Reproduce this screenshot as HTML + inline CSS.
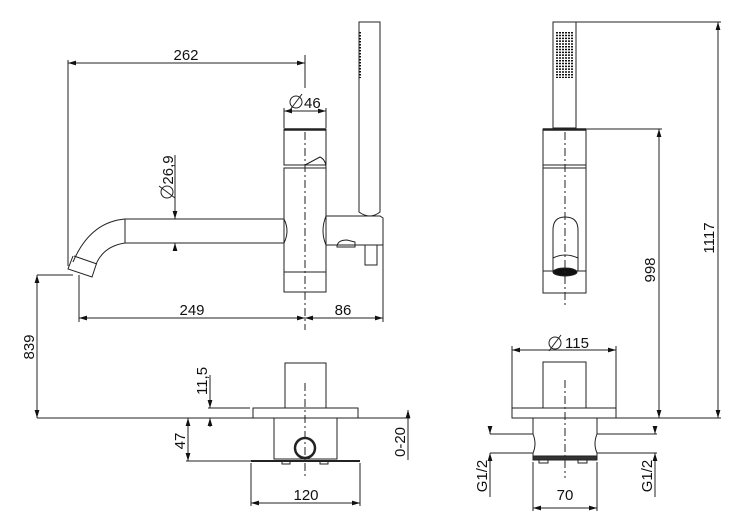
<!DOCTYPE html>
<html><head><meta charset="utf-8"><style>
html,body{margin:0;padding:0;background:#fff}
svg{display:block}
text{font-family:"Liberation Sans",Arial,sans-serif;font-size:15px;fill:#111}
</style></head><body>
<svg width="732" height="525" viewBox="0 0 732 525" xmlns="http://www.w3.org/2000/svg">
<defs>
<marker id="a" viewBox="0 0 10 6" refX="10" refY="3" markerWidth="8" markerHeight="5" orient="auto-start-reverse" markerUnits="userSpaceOnUse"><path d="M0,0 L10,3 L0,6z" fill="#111"/></marker>
</defs>
<g stroke="#222" stroke-width="1" fill="none">
<!-- LEFT VIEW -->
<line x1="68" y1="63" x2="305" y2="63" marker-start="url(#a)" marker-end="url(#a)"/>
<line x1="68" y1="60" x2="68" y2="266"/>
<line x1="305" y1="55" x2="305" y2="88"/>
<line x1="284" y1="111" x2="326" y2="111" marker-start="url(#a)" marker-end="url(#a)"/>
<line x1="284" y1="108" x2="284" y2="128"/><line x1="326" y1="108" x2="326" y2="128"/>
<rect x="284" y="129" width="42" height="36"/>
<line x1="284" y1="129.5" x2="326" y2="129.5" stroke-width="2.5"/>
<path d="M305,165 L320,157 Q326,160 326,168"/>
<rect x="284" y="168" width="42" height="124"/>
<line x1="284" y1="272" x2="326" y2="272"/>
<path d="M284,219 L125,219 Q90,222 73,262"/>
<path d="M284,243 L125,243 Q105,246 97,262"/>
<line x1="125" y1="219" x2="125" y2="243"/>
<path d="M73,256 L68,269 L92,277 L97,262"/>
<line x1="74" y1="256" x2="97" y2="264"/>
<path d="M284,219 Q290,231 284,243"/>
<line x1="175" y1="155" x2="175" y2="219" marker-end="url(#a)"/>
<line x1="175" y1="250" x2="175" y2="243" marker-end="url(#a)"/>
<path d="M359,212 L359,22 L380,22 L380,212 Q370,220 359,212z"/>
<line x1="360" y1="32" x2="360" y2="78" stroke="#111" stroke-width="2" stroke-dasharray="1.5 1.5"/>
<path d="M326,216 L380,216 L383,218 L383,245 L326,245 Q320,231 326,216"/>
<rect x="365" y="245" width="12" height="20"/>
<path d="M337,246 Q338,240 347,240 L355,242 L355,247 L337,247z"/>
<line x1="305" y1="132" x2="305" y2="330" stroke-dasharray="8 3 2 3"/>
<line x1="79" y1="318" x2="305" y2="318" marker-start="url(#a)" marker-end="url(#a)"/>
<line x1="305" y1="318" x2="383" y2="318" marker-start="url(#a)" marker-end="url(#a)"/>
<line x1="79" y1="275" x2="79" y2="322"/>
<line x1="383" y1="245" x2="383" y2="322"/>
<line x1="37" y1="275" x2="73" y2="275"/>
<line x1="37" y1="275" x2="37" y2="418" marker-start="url(#a)" marker-end="url(#a)"/>
<line x1="37" y1="418" x2="410" y2="418"/>
<rect x="285" y="363" width="41" height="45"/>
<rect x="253" y="408" width="105" height="10"/>
<rect x="274" y="418" width="63" height="41"/>
<circle cx="305" cy="448" r="10" stroke-width="2.5"/>
<line x1="251" y1="461" x2="360" y2="461" stroke-width="2"/>
<rect x="282" y="461" width="8" height="3"/><rect x="320" y="461" width="8" height="3"/>
<line x1="305" y1="383" x2="305" y2="476" stroke-dasharray="8 3 2 3"/>
<line x1="208" y1="408" x2="250" y2="408"/>
<line x1="210" y1="375" x2="210" y2="408" marker-end="url(#a)"/>
<line x1="210" y1="427" x2="210" y2="418" marker-end="url(#a)"/>
<line x1="188" y1="418" x2="188" y2="461" marker-start="url(#a)" marker-end="url(#a)"/>
<line x1="186" y1="461" x2="251" y2="461"/>
<line x1="408" y1="410" x2="408" y2="418" marker-start="url(#a)"/>
<line x1="408" y1="418" x2="408" y2="460"/>
<line x1="251" y1="463" x2="251" y2="506"/><line x1="360" y1="463" x2="360" y2="506"/>
<line x1="251" y1="503" x2="360" y2="503" marker-start="url(#a)" marker-end="url(#a)"/>

<!-- RIGHT VIEW -->
<rect x="553" y="22" width="23" height="106"/>
<g stroke="#111" stroke-width="2" stroke-dasharray="1.5 1.3">
<line x1="557" y1="32" x2="557" y2="78"/><line x1="560" y1="32" x2="560" y2="78"/><line x1="563" y1="32" x2="563" y2="78"/><line x1="566" y1="32" x2="566" y2="78"/><line x1="569" y1="32" x2="569" y2="78"/><line x1="572" y1="32" x2="572" y2="78"/>
</g>
<rect x="543" y="129" width="43" height="164"/>
<line x1="543" y1="129.5" x2="586" y2="129.5" stroke-width="2.5"/>
<line x1="543" y1="165" x2="586" y2="165"/>
<line x1="543" y1="168" x2="586" y2="168"/>
<path d="M553,271 L553,230 Q553,217 565,217 Q578,217 578,230 L578,271"/>
<path d="M553,258 Q565,252 578,258"/>
<line x1="543" y1="271" x2="586" y2="271"/>
<ellipse cx="565" cy="272" rx="12" ry="4" fill="#111"/>
<line x1="565" y1="132" x2="565" y2="305" stroke-dasharray="8 3 2 3"/>
<line x1="586" y1="129" x2="662" y2="129"/>
<line x1="659" y1="129" x2="659" y2="418" marker-start="url(#a)" marker-end="url(#a)"/>
<line x1="576" y1="22" x2="721" y2="22"/>
<line x1="718" y1="22" x2="718" y2="418" marker-start="url(#a)" marker-end="url(#a)"/>
<line x1="616" y1="418" x2="721" y2="418"/>
<line x1="512" y1="350" x2="616" y2="350" marker-start="url(#a)" marker-end="url(#a)"/>
<line x1="512" y1="346" x2="512" y2="408"/><line x1="616" y1="346" x2="616" y2="408"/>
<rect x="543" y="362" width="43" height="46"/>
<rect x="512" y="408" width="104" height="10"/>
<path d="M533,418 L533,434 Q537,444 533,453 L533,458 M597,418 L597,434 Q593,444 597,453 L597,458"/>
<line x1="490" y1="434" x2="533" y2="434"/><line x1="490" y1="453" x2="533" y2="453"/>
<line x1="597" y1="434" x2="657" y2="434"/><line x1="597" y1="453" x2="657" y2="453"/>
<rect x="533" y="456" width="64" height="4" fill="#333"/>
<rect x="539" y="460" width="9" height="3"/><rect x="578" y="460" width="9" height="3"/>
<line x1="565" y1="380" x2="565" y2="478" stroke-dasharray="8 3 2 3"/>
<line x1="490" y1="427" x2="490" y2="434" marker-end="url(#a)"/>
<line x1="490" y1="497" x2="490" y2="453" marker-end="url(#a)"/>
<line x1="655" y1="427" x2="655" y2="434" marker-end="url(#a)"/>
<line x1="655" y1="497" x2="655" y2="453" marker-end="url(#a)"/>
<line x1="533" y1="462" x2="533" y2="511"/><line x1="597" y1="462" x2="597" y2="511"/>
<line x1="533" y1="508" x2="597" y2="508" marker-start="url(#a)" marker-end="url(#a)"/>

<!-- diameter symbols -->
<circle cx="296" cy="102" r="6"/><line x1="290" y1="110" x2="302" y2="94"/>
<circle cx="555" cy="343" r="6"/><line x1="549" y1="351" x2="561" y2="335"/>
<circle cx="167" cy="192" r="6"/><line x1="159" y1="186" x2="175" y2="198"/>
</g>
<text x="186" y="60" text-anchor="middle">262</text>
<text x="304" y="108">46</text>
<text x="192" y="315" text-anchor="middle">249</text>
<text x="343" y="315" text-anchor="middle">86</text>
<text transform="translate(173,170) rotate(-90)" text-anchor="middle">26,9</text>
<text transform="translate(34,347) rotate(-90)" text-anchor="middle">839</text>
<text transform="translate(207,381) rotate(-90)" text-anchor="middle">11,5</text>
<text transform="translate(185,441) rotate(-90)" text-anchor="middle">47</text>
<text transform="translate(405,442) rotate(-90)" text-anchor="middle">0-20</text>
<text x="306" y="500" text-anchor="middle">120</text>
<text x="565" y="348">115</text>
<text transform="translate(655,270) rotate(-90)" text-anchor="middle">998</text>
<text transform="translate(714,238) rotate(-90)" text-anchor="middle">1117</text>
<text transform="translate(487,476) rotate(-90)" text-anchor="middle">G1/2</text>
<text transform="translate(652,476) rotate(-90)" text-anchor="middle">G1/2</text>
<text x="565" y="500" text-anchor="middle">70</text>
</svg>
</body></html>
